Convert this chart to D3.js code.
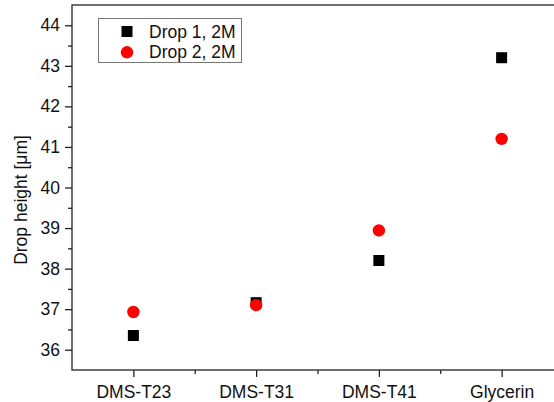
<!DOCTYPE html>
<html>
<head>
<meta charset="utf-8">
<script src="https://cdn.jsdelivr.net/npm/d3@7"></script>
<style>
  body { margin: 0; background: #fff; }
  text { font-family: Arial, "Liberation Sans", sans-serif; }
</style>
</head>
<body>
<div id="chart"></div>
<script>
// data
let categories = ["DMS-T23", "DMS-T31", "DMS-T41", "Glycerin"];
let drop1 = [36.35, 37.16, 38.2, 43.2];
let drop2 = [36.93, 37.1, 38.94, 41.2];
let seriesNames = ["Drop 1, 2M", "Drop 2, 2M"];
let yTicks = [36, 37, 38, 39, 40, 41, 42, 43, 44];

let svgWidth = 554;
let svgHeight = 402;

let margin = { top: 5, left: 72, bottom: 32 };
let plotRight = 563; // right frame sits just past the picture edge

let svg = d3.select("#chart")
    .append("svg")
    .attr("width", svgWidth)
    .attr("height", svgHeight);

let x = d3.scaleLinear()
    .domain([-0.5, categories.length - 0.5])
    .range([margin.left, plotRight]);

let y = d3.scaleLinear()
    .domain([35.5, 44.5])
    .range([svgHeight - margin.bottom, margin.top]);

let fontSize = 17.5;

// frame
svg.append("rect")
    .attr("x", margin.left)
    .attr("y", margin.top)
    .attr("width", plotRight - margin.left)
    .attr("height", y.range()[0] - margin.top)
    .attr("fill", "none")
    .attr("stroke", "#222")
    .attr("stroke-width", 1.3);

// y axis
let yAxis = d3.axisLeft(y)
    .tickValues(yTicks)
    .tickSize(7)
    .tickPadding(5)
    .tickFormat(d3.format("d"));

svg.append("g")
    .attr("transform", `translate(${margin.left},0)`)
    .call(yAxis);

let yMinor = d3.axisLeft(y)
    .tickValues(yTicks.map(t => t - 0.5).concat([44.5]).filter(t => t > 35.5 && t < 44.5))
    .tickSize(4)
    .tickFormat("");
svg.append("g")
    .attr("transform", `translate(${margin.left},0)`)
    .call(yMinor);

// x axis
let xAxis = d3.axisBottom(x)
    .tickValues(d3.range(categories.length))
    .tickSize(7)
    .tickPadding(9)
    .tickFormat(i => categories[i]);

svg.append("g")
    .attr("transform", `translate(0,${y.range()[0]})`)
    .call(xAxis);

let xMinor = d3.axisBottom(x)
    .tickValues(d3.range(categories.length - 1).map(i => i + 0.5))
    .tickSize(4)
    .tickFormat("");
svg.append("g")
    .attr("transform", `translate(0,${y.range()[0]})`)
    .call(xMinor);

svg.selectAll(".domain").remove();
svg.selectAll(".tick line").attr("stroke", "#222").attr("stroke-width", 1.3);
svg.selectAll(".tick text")
    .attr("fill", "#111")
    .style("font-size", fontSize + "px");

// axis title
svg.append("text")
    .attr("transform", `translate(27,200) rotate(-90)`)
    .attr("text-anchor", "middle")
    .style("font-size", fontSize + "px")
    .attr("fill", "#111")
    .text("Drop height [\u03bcm]");

// points: squares first, circles over them
let sq = 11;
svg.selectAll("rect.d1")
    .data(drop1)
    .enter()
    .append("rect")
    .attr("class", "d1")
    .attr("x", (d, i) => x(i) - sq / 2)
    .attr("y", d => y(d) - sq / 2)
    .attr("width", sq)
    .attr("height", sq)
    .attr("fill", "#000");

svg.selectAll("circle.d2")
    .data(drop2)
    .enter()
    .append("circle")
    .attr("class", "d2")
    .attr("cx", (d, i) => x(i))
    .attr("cy", d => y(d))
    .attr("r", 6.2)
    .attr("fill", "#ff0000");

// legend
let legend = svg.append("g");
legend.append("rect")
    .attr("x", 98.5)
    .attr("y", 18.5)
    .attr("width", 143)
    .attr("height", 44)
    .attr("fill", "#fff")
    .attr("stroke", "#777")
    .attr("stroke-width", 1);

legend.append("rect")
    .attr("x", 127 - sq / 2)
    .attr("y", 31.5 - sq / 2)
    .attr("width", sq)
    .attr("height", sq)
    .attr("fill", "#000");

legend.append("circle")
    .attr("cx", 127)
    .attr("cy", 52.3)
    .attr("r", 6.2)
    .attr("fill", "#ff0000");

legend.selectAll("text")
    .data(seriesNames)
    .enter()
    .append("text")
    .attr("x", 149)
    .attr("y", (d, i) => 37.5 + i * 20.7)
    .style("font-size", fontSize + "px")
    .attr("fill", "#111")
    .text(d => d);
</script>
</body>
</html>
